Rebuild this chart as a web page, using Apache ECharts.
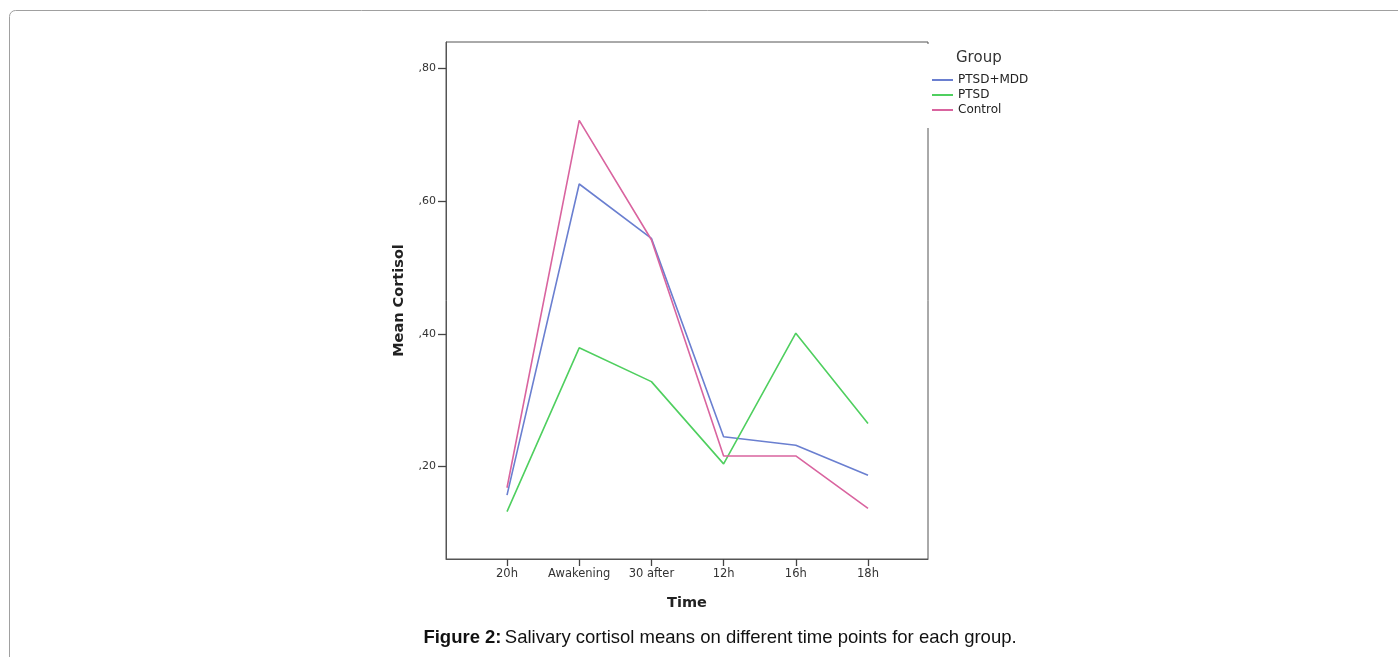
<!DOCTYPE html>
<html>
<head>
<meta charset="utf-8">
<script src="https://cdn.jsdelivr.net/npm/echarts@6/dist/echarts.min.js"></script>
<style>
html,body{margin:0;padding:0;background:#fff;}
#chart{width:1398px;height:657px;}
</style>
</head>
<body>
<div id="chart"></div>
<script>
const categories = ['20h', 'Awakening', '30 after', '12h', '16h', '18h'];
const groupNames = ['PTSD+MDD', 'PTSD', 'Control'];
const ptsdMdd = [0.157, 0.626, 0.544, 0.245, 0.232, 0.187];
const ptsd    = [0.132, 0.379, 0.328, 0.204, 0.401, 0.265];
const control = [0.168, 0.722, 0.542, 0.216, 0.216, 0.137];
const yTicks = [0.2, 0.4, 0.6, 0.8];
const yTickLabels = [',20', ',40', ',60', ',80'];
const xTicks = [0, 1, 2, 3, 4, 5];

const colors = ['#6a7fd0', '#4fcf5f', '#d9649f'];
const seriesValues = [ptsdMdd, ptsd, control];

const chart = echarts.init(document.getElementById('chart'));
const axisFont = 'DejaVu Sans';

chart.setOption({
  animation: false,
  backgroundColor: '#fff',
  grid: {
    left: 446, top: 42, right: 470, bottom: 98,
    show: true, borderColor: '#555', borderWidth: 1, backgroundColor: 'transparent'
  },
  legend: {
    orient: 'vertical',
    left: 931, top: 74,
    padding: 0,
    itemGap: 3,
    itemWidth: 22, itemHeight: 2,
    icon: 'rect',
    textStyle: { fontFamily: axisFont, fontSize: 12, color: '#222', lineHeight: 12 },
    data: groupNames
  },
  xAxis: {
    type: 'value',
    min: -0.845, max: 5.831,
    name: 'Time',
    nameLocation: 'middle',
    nameGap: 37,
    nameTextStyle: { fontFamily: axisFont, fontSize: 14.5, fontWeight: 'bold', color: '#222' },
    axisLine: { show: true, onZero: false, lineStyle: { color: '#555', width: 1 } },
    axisTick: { show: true, inside: false, customValues: xTicks, length: 7, lineStyle: { color: '#444', width: 1.3 } },
    axisLabel: {
      customValues: xTicks,
      formatter: v => categories[Math.round(v)],
      fontFamily: axisFont, fontSize: 11.5, color: '#333', margin: 9
    },
    splitLine: { show: false }
  },
  yAxis: {
    type: 'value',
    min: 0.0606, max: 0.8401,
    name: 'Mean Cortisol',
    nameLocation: 'middle',
    nameGap: 39,
    nameTextStyle: { fontFamily: axisFont, fontSize: 14.5, fontWeight: 'bold', color: '#222' },
    axisLine: { show: true, onZero: false, lineStyle: { color: '#555', width: 1 } },
    axisTick: { show: true, inside: false, customValues: yTicks, length: 8, lineStyle: { color: '#444', width: 1.3 } },
    axisLabel: {
      customValues: yTicks,
      formatter: v => yTickLabels[yTicks.findIndex(t => Math.abs(t - v) < 1e-6)],
      fontFamily: axisFont, fontSize: 11, color: '#333', margin: 10
    },
    splitLine: { show: false }
  },
  series: groupNames.map((name, i) => ({
    name: name,
    type: 'line',
    showSymbol: false,
    symbol: 'none',
    color: colors[i],
    lineStyle: { width: 1.6, color: colors[i] },
    data: seriesValues[i].map((v, j) => [xTicks[j], v])
  })),
  graphic: [
    {
      type: 'rect', silent: true, z: -10,
      shape: { x: 9.5, y: 10.5, width: 1420, height: 700, r: 6 },
      style: { fill: 'none', stroke: '#a0a0a0', lineWidth: 1 }
    },
    {
      type: 'rect', silent: true, z: 100,
      shape: { x: 924, y: 44, width: 8, height: 84 },
      style: { fill: '#fff' }
    },
    {
      type: 'text', silent: true, z: 100,
      left: 956, top: 51,
      style: { text: 'Group', font: '15px "DejaVu Sans"', fill: '#333' }
    },
    {
      type: 'text', silent: true, z: 100,
      x: 720, y: 638,
      style: {
        text: '{b|Figure 2:} {n|Salivary cortisol means on different time points for each group.}',
        align: 'center', verticalAlign: 'middle',
        rich: {
          b: { fontFamily: 'Liberation Sans', fontSize: 18.5, fontWeight: 'bold', fill: '#111' },
          n: { fontFamily: 'Liberation Sans', fontSize: 18.5, fill: '#111' }
        }
      }
    }
  ]
});
</script>
</body>
</html>
